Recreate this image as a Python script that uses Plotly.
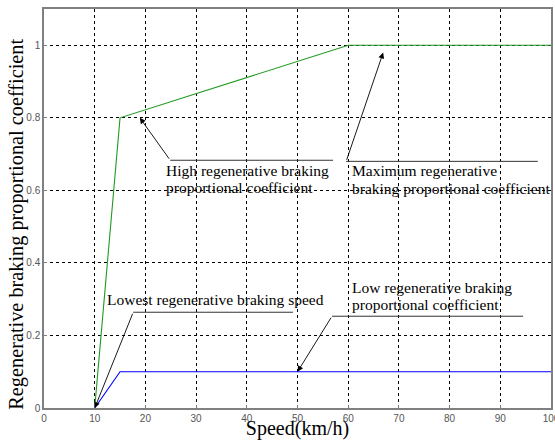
import plotly.graph_objects as go

# Braking strategy curves
speed_high = [10, 15, 60, 100]
coef_high = [0, 0.8, 1.0, 1.0]
speed_low = [10, 15, 100]
coef_low = [0, 0.1, 0.1]

x_ticks = [0, 10, 20, 30, 40, 50, 60, 70, 80, 90, 100]
y_ticks = [0, 0.2, 0.4, 0.6, 0.8, 1.0]
y_tick_text = ["0", "0.2", "0.4", "0.6", "0.8", "1"]

fig = go.Figure()
fig.add_trace(go.Scatter(x=speed_high, y=coef_high, mode="lines",
                         line=dict(color="#1f9a1f", width=1.1), showlegend=False))
fig.add_trace(go.Scatter(x=speed_low, y=coef_low, mode="lines",
                         line=dict(color="#0000ff", width=1.1), showlegend=False))

serif = "Liberation Serif, Times New Roman, serif"
txt_font = dict(family=serif, size=15.5, color="black")

# (label lines with their centre heights, text x, underline x0, x1, y, arrow tip x, y)
callouts = [
    ([("High regenerative braking", 0.656), ("proportional coefficient", 0.609)],
     23.6, 24.9, 57.0, 0.683, 18.9, 0.80),
    ([("Maximum regenerative", 0.656), ("braking proportional coefficient", 0.606)],
     60.3, 59.6, 97.4, 0.680, 66.9, 0.98),
    ([("Lowest regenerative braking speed", 0.298)],
     12.1, 17.6, 49.1, 0.264, 10.0, 0.0),
    ([("Low regenerative braking", 0.333), ("proportional coefficient", 0.284)],
     60.3, 56.8, 94.5, 0.253, 50.0, 0.10),
]

for lines, tx, ux0, ux1, uy, px, py in callouts:
    fig.add_shape(type="line", x0=ux0, x1=ux1, y0=uy, y1=uy, xref="x", yref="y",
                  line=dict(color="#333333", width=1))
    fig.add_annotation(x=px, y=py, ax=ux0, ay=uy, xref="x", yref="y",
                       axref="x", ayref="y", text="", showarrow=True,
                       arrowhead=2, arrowsize=1.3, arrowwidth=0.9, arrowcolor="black")
    for label, ly in lines:
        fig.add_annotation(x=tx, y=ly, xref="x", yref="y", text=label,
                           showarrow=False, xanchor="left", yanchor="middle",
                           font=txt_font)

# Vertical axis label, placed as a rotated annotation
fig.add_annotation(x=-0.056, y=0.461, xref="paper", yref="paper",
                   text="Regenerative braking proportional coefficient",
                   textangle=-90, showarrow=False, xanchor="center", yanchor="middle",
                   font=dict(family=serif, size=20.3, color="black"))

axis_common = dict(
    showgrid=True, gridcolor="black", griddash="3px,3px", gridwidth=1,
    showline=True, linecolor="#808080", linewidth=1.5, mirror=True,
    ticks="inside", ticklen=3, tickcolor="#808080",
    tickfont=dict(family="Liberation Sans, Arial, sans-serif", size=10, color="#555555"),
    zeroline=False, automargin=False,
)

fig.update_xaxes(range=[0, 100], tickvals=x_ticks, ticklabeloverflow="allow",
                 title=dict(text="Speed(km/h)", font=dict(family=serif, size=20, color="black"),
                            standoff=7),
                 **axis_common)
fig.update_yaxes(range=[0, 1.1], tickvals=y_ticks, ticktext=y_tick_text,
                 **axis_common)

fig.update_layout(
    width=555, height=440,
    margin=dict(l=44, r=4, t=9, b=32, autoexpand=False),
    paper_bgcolor="white", plot_bgcolor="white",
)

fig.write_html("out.html")
